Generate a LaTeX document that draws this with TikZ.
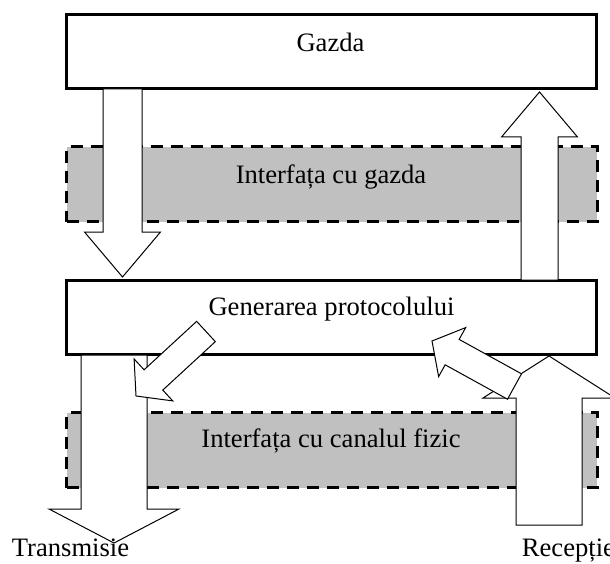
\documentclass[tikz,border=0pt]{standalone}
\usepackage{fontspec}
\setmainfont{Liberation Serif}
\usetikzlibrary{calc}
\definecolor{bandgray}{RGB}{192,192,192}
\tikzset{
  hostbox/.style={draw, line width=3pt, fill=white, rectangle, inner sep=0pt},
  bandbox/.style={draw, line width=3pt, fill=bandgray, dash pattern=on 12pt off 8pt, rectangle, inner sep=0pt},
  lbl/.style={inner sep=0pt, font=\fontsize{26.6}{32}\selectfont},
  blockarrow/.style={draw, line width=1pt, fill=white, line join=miter},
}
\newcommand\blockarr[5]{%
  \coordinate (ba-base) at ($(#2)!#5!(#1)$);
  \draw[blockarrow] ($(#1)!#3!90:(#2)$) -- ($(ba-base)!#3!90:(#2)$) -- ($(ba-base)!#4!90:(#2)$) -- (#2) -- ($(ba-base)!#4!-90:(#2)$) -- ($(ba-base)!#3!-90:(#2)$) -- ($(#1)!#3!-90:(#2)$) -- cycle;}
\begin{document}
\begin{tikzpicture}[x=1pt,y=-1pt]
\useasboundingbox (0,0) rectangle (610,564);
% bands
\node[bandbox, minimum width=530.5pt, minimum height=75pt] (band1) at (331.75,184.2) {};
\node[bandbox, minimum width=530.5pt, minimum height=75pt] (band2) at (331.75,450.2) {};
% boxes
\node[hostbox, minimum width=529.5pt, minimum height=74.7pt] (gazda) at (331.25,51.65) {};
\node[hostbox, minimum width=529.5pt, minimum height=74.3pt] (gen) at (331.25,317.15) {};
% arrow end points
\coordinate (dnA) at (122.5,89);   \coordinate (dnB) at (122.5,277);
\coordinate (upA) at (539.5,280);  \coordinate (upB) at (539.5,92);
\coordinate (txA) at (114,355);    \coordinate (txB) at (114,543);
\coordinate (rxA) at (549,525);    \coordinate (rxB) at (549,356);
\coordinate (d1A) at (206,331.5);  \coordinate (d1B) at (136,396);
\coordinate (d2A) at (514.5,386.5);\coordinate (d2B) at (432,341);
\blockarr{dnA}{dnB}{19.5pt}{38pt}{45pt}
\blockarr{upA}{upB}{18.5pt}{38pt}{45pt}
\blockarr{txA}{txB}{33pt}{65pt}{34pt}
\blockarr{rxA}{rxB}{33pt}{66pt}{42pt}
\blockarr{d1A}{d1B}{13.8pt}{28.5pt}{23.7pt}
\blockarr{d2A}{d2B}{14.5pt}{28pt}{23pt}
% labels
\node[lbl, anchor=base] (tgazda) at (330.5,51.7) {Gazda};
\node[lbl, anchor=base] (tif1) at (331,183.3) {Interfața cu gazda};
\node[lbl, anchor=base] (tgen) at (331.5,315.7) {Generarea protocolului};
\node[lbl, anchor=base] (tif2) at (331,447.3) {Interfața cu canalul fizic};
\node[lbl, anchor=base west] (ttx) at (11.7,556.7) {Transmisie};
\node[lbl, anchor=base west] (trx) at (521.7,556.7) {Recepție};
\end{tikzpicture}
\end{document}
